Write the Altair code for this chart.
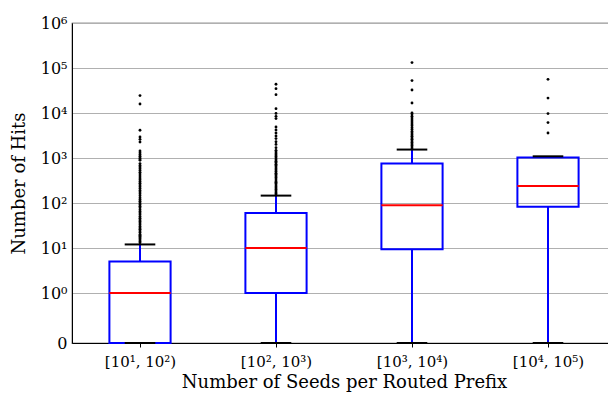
import altair as alt
import pandas as pd

# bins of seeds per routed prefix
categories = ["[10¹, 10²)", "[10², 10³)", "[10³, 10⁴)", "[10⁴, 10⁵)"]
positions = [1, 2, 3, 4]

# box statistics (hits)
whisker_low = [0, 0, 0, 0]
q1 = [0, 1, 9.4, 83]
median = [1, 10, 89, 239]
q3 = [5, 60, 752, 1020]
whisker_high = [12, 146, 1540, 1090]

# fliers
fliers_1 = [13, 14, 15, 16, 17, 18, 19, 20, 22, 24, 26, 28, 30, 33, 36, 39, 42,
            46, 50, 55, 60, 65, 71, 78, 85, 93, 100, 110, 120, 130, 145, 160,
            175, 190, 210, 230, 250, 275, 300, 330, 360, 400, 440, 480, 530,
            580, 630, 680, 750, 890, 950, 1000, 1100, 1200, 1300, 1430, 2270,
            2600, 2930, 4130, 15850, 24400]
fliers_2 = [150, 160, 170, 185, 200, 215, 230, 250, 270, 290, 310, 340, 370,
            400, 430, 460, 500, 540, 580, 630, 680, 730, 790, 850, 920, 1000,
            1080, 1160, 1250, 1360, 1480, 1700, 2000, 2300, 2700, 3100, 3600,
            4200, 4890, 7500, 8430, 9800, 12500, 25600, 34800, 43500]
fliers_3 = [1600, 1750, 1900, 2050, 2200, 2400, 2600, 2800, 3050, 3300, 3600,
            3900, 4300, 4700, 5200, 5700, 6300, 7000, 7700, 8500, 9500, 10000,
            16700, 32400, 52500, 131800]
fliers_4 = [3590, 6120, 9700, 21500, 56100]

y_ticks = ["0", "10⁰", "10¹", "10²", "10³", "10⁴", "10⁵", "10⁶"]

LIN = 50 / 45  # width of the linear part [0, 1] relative to one decade
FONT = "DejaVu Serif"


def sym(field):
    return (f"datum.{field} <= 1 ? datum.{field} * {LIN} "
            f": {LIN} + log(datum.{field}) / LN10")


boxes = pd.DataFrame({"pos": positions, "lo": whisker_low, "q1": q1,
                      "med": median, "q3": q3, "hi": whisker_high})
fliers = pd.DataFrame(
    [{"pos": p, "v": v} for p, vals in zip(positions, [fliers_1, fliers_2, fliers_3, fliers_4])
     for v in vals])

x_label_expr = "[" + ",".join(f"'{c}'" for c in categories) + "][datum.value - 1]"
y_label_expr = "[" + ",".join(f"'{t}'" for t in y_ticks) + "][round(datum.value < 0.5 ? 0 : datum.value - " + str(LIN) + " + 1)]"

x_scale = alt.Scale(domain=[0.5, 4.5], nice=False, zero=False)
y_scale = alt.Scale(domain=[0, LIN + 6], nice=False)

x_axis = alt.Axis(values=positions, labelExpr=x_label_expr, title="Number of Seeds per Routed Prefix",
                  grid=False, tickSize=4, tickColor="black", domainColor="black",
                  labelFont=FONT, labelFontSize=15, labelColor="black", labelPadding=7,
                  titleFont=FONT, titleFontSize=18, titleFontWeight="normal",
                  titleColor="black", titlePadding=4)
y_axis = alt.Axis(values=[0] + [LIN + k for k in range(7)], labelExpr=y_label_expr,
                  title="Number of Hits", grid=True, gridColor="#b0b0b0", gridWidth=1.2,
                  tickSize=0, domainColor="black",
                  labelFont=FONT, labelFontSize=16, labelColor="black", labelPadding=5,
                  titleFont=FONT, titleFontSize=18, titleFontWeight="normal",
                  titleColor="black", titlePadding=12)

base = alt.Chart(boxes).transform_calculate(
    t_lo=sym("lo"), t_q1=sym("q1"), t_med=sym("med"), t_q3=sym("q3"), t_hi=sym("hi"),
    left="datum.pos - 0.225", right="datum.pos + 0.225",
    cl="datum.pos - 0.1125", cr="datum.pos + 0.1125")

box = base.mark_rect(fillOpacity=0, stroke="#0000ff", strokeWidth=2).encode(
    x=alt.X("left:Q", scale=x_scale, axis=x_axis), x2="right:Q",
    y=alt.Y("t_q1:Q", scale=y_scale, axis=y_axis), y2="t_q3:Q")

med = base.mark_rule(color="#ff0000", strokeWidth=2).encode(
    x="left:Q", x2="right:Q", y="t_med:Q")

whisk_up = base.mark_rule(color="#0000ff", strokeWidth=2).encode(
    x="pos:Q", y="t_q3:Q", y2="t_hi:Q")
whisk_dn = base.mark_rule(color="#0000ff", strokeWidth=2).encode(
    x="pos:Q", y="t_lo:Q", y2="t_q1:Q")

cap_hi = base.mark_rule(color="black", strokeWidth=2).encode(
    x="cl:Q", x2="cr:Q", y="t_hi:Q")
cap_lo = base.mark_rule(color="black", strokeWidth=2).encode(
    x="cl:Q", x2="cr:Q", y="t_lo:Q")

dots = alt.Chart(fliers).transform_calculate(t_v=sym("v")).mark_circle(
    color="black", size=8, opacity=1).encode(x="pos:Q", y="t_v:Q")

# plot area runs to the right edge of the window, as in the cropped original
chart = alt.layer(box, med, whisk_up, whisk_dn, cap_hi, cap_lo, dots).properties(
    width=544, height=320, autosize="none",
    padding={"left": 64, "top": 15, "right": -8, "bottom": 51}
).configure_view(stroke="#333333", strokeWidth=1.2)

chart.save("out.html", embed_options={"renderer": "svg", "actions": False})
